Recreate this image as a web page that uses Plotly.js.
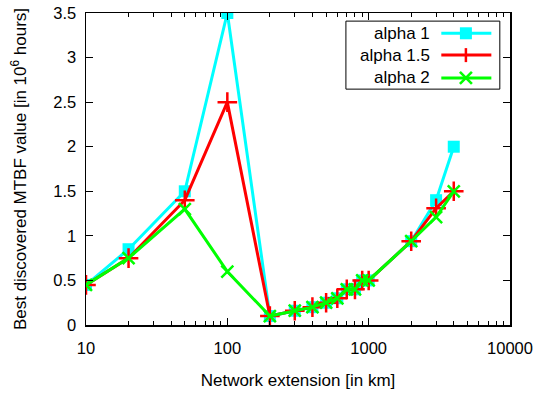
<!DOCTYPE html>
<html><head><meta charset="utf-8">
<script src="https://cdn.plot.ly/plotly-3.0.1.min.js"></script>
<style>html,body{margin:0;padding:0;background:#fff}#chart{width:537px;height:394px}</style>
</head><body><div id="chart"></div>
<script>
const extensionKm = [10, 20, 50, 100, 200, 300, 400, 500, 600, 700, 800, 900, 1000, 2000, 3000, 4000];
const alpha1   = [0.45, 0.85, 1.5, 3.5, 0.1, 0.16, 0.2, 0.25, 0.3, 0.4, 0.4, 0.5, 0.5, 0.94, 1.4, 2.0];
const alpha15  = [0.45, 0.75, 1.4, 2.5, 0.1, 0.16, 0.2, 0.25, 0.3, 0.4, 0.4, 0.5, 0.5, 0.94, 1.31, 1.5];
const alpha2   = [0.45, 0.75, 1.3, 0.6, 0.1, 0.16, 0.2, 0.25, 0.3, 0.4, 0.4, 0.5, 0.5, 0.94, 1.21, 1.5];
const seriesNames = ['alpha 1', 'alpha 1.5', 'alpha 2'];
const xTickVals = [10, 100, 1000, 10000];
const yTickVals = [0, 0.5, 1, 1.5, 2, 2.5, 3, 3.5];

const FONT = 'Liberation Sans, Arial, sans-serif';
const FT = 16.5, FL = 17;
const cyan = '#00ffff', red = '#ff0000', green = '#00ff00';

const traces = [
  {x: extensionKm, y: alpha1, name: seriesNames[0], mode: 'lines+markers',
   line: {color: cyan, width: 3}, marker: {symbol: 'square', size: 12, color: cyan}},
  {x: extensionKm, y: alpha15, name: seriesNames[1], mode: 'lines+markers',
   line: {color: red, width: 3}, marker: {symbol: 'cross-thin-open', size: 14, line: {color: red, width: 2.5}}},
  {x: extensionKm, y: alpha2, name: seriesNames[2], mode: 'lines+markers',
   line: {color: green, width: 3}, marker: {symbol: 'x-thin-open', size: 12, line: {color: green, width: 2.5}}}
];

// custom legend (text on left, sample on right), paper coordinates
const L = {x0: 0.613, x1: 0.976, y0: 0.756, y1: 0.974, textX: 0.815, s0: 0.838, s1: 0.956, mx: 0.896, rows: [0.935, 0.865, 0.792]};
const colors = [cyan, red, green];
const shapes = [{type: 'rect', xref: 'paper', yref: 'paper', x0: L.x0, x1: L.x1, y0: L.y0, y1: L.y1,
  line: {color: '#000', width: 1}, fillcolor: 'rgba(255,255,255,1)', layer: 'above'}];
const annotations = [];
const dx = 6/424, dy = 6/312;
seriesNames.forEach((n, i) => {
  const y = L.rows[i];
  annotations.push({xref: 'paper', yref: 'paper', x: L.textX, y: y, xanchor: 'right', yanchor: 'middle',
    text: n, showarrow: false, font: {family: FONT, size: FL, color: '#000'}});
  shapes.push({type: 'line', xref: 'paper', yref: 'paper', x0: L.s0, x1: L.s1, y0: y, y1: y,
    line: {color: colors[i], width: 3}, layer: 'above'});
  if (i === 0) {
    shapes.push({type: 'rect', xref: 'paper', yref: 'paper', x0: L.mx - dx, x1: L.mx + dx, y0: y - dy, y1: y + dy,
      line: {width: 0}, fillcolor: cyan, layer: 'above'});
  } else if (i === 1) {
    const ey = 7/312;
    shapes.push({type: 'line', xref: 'paper', yref: 'paper', x0: L.mx, x1: L.mx, y0: y - ey, y1: y + ey,
      line: {color: red, width: 2.5}, layer: 'above'});
  } else {
    const ex = 6/424, ey = 6/312;
    shapes.push({type: 'line', xref: 'paper', yref: 'paper', x0: L.mx - ex, x1: L.mx + ex, y0: y - ey, y1: y + ey,
      line: {color: green, width: 2.5}, layer: 'above'});
    shapes.push({type: 'line', xref: 'paper', yref: 'paper', x0: L.mx - ex, x1: L.mx + ex, y0: y + ey, y1: y - ey,
      line: {color: green, width: 2.5}, layer: 'above'});
  }
});

const layout = {
  width: 537, height: 394,
  margin: {l: 86, r: 27, t: 13, b: 69},
  paper_bgcolor: '#fff', plot_bgcolor: '#fff',
  showlegend: false,
  font: {family: FONT, size: FT, color: '#000'},
  xaxis: {
    type: 'log', range: [1, 4], tickvals: xTickVals, ticktext: xTickVals.map(String),
    ticks: 'inside', ticklen: 7, tickwidth: 1, tickcolor: '#000',
    minor: {ticks: 'inside', ticklen: 4, tickcolor: '#000', dtick: 'D1', showgrid: false},
    showline: true, linecolor: '#000', linewidth: 1.5, mirror: 'allticks',
    showgrid: false, zeroline: false, ticklabelstandoff: 8,
    tickfont: {family: FONT, size: FT, color: '#000'},
    title: {text: 'Network extension [in km]', font: {family: FONT, size: FL, color: '#000'}, standoff: 18}
  },
  yaxis: {
    range: [0, 3.5], tickvals: yTickVals, ticktext: yTickVals.map(String),
    ticks: 'inside', ticklen: 7, tickwidth: 1, tickcolor: '#000',
    showline: true, linecolor: '#000', linewidth: 1.5, mirror: 'allticks',
    showgrid: false, zeroline: false, ticklabelstandoff: 5,
    tickfont: {family: FONT, size: FT, color: '#000'},
    title: {text: 'Best discovered MTBF value [in 10<sup>6</sup> hours]', font: {family: FONT, size: FL, color: '#000'}, standoff: 22}
  },
  shapes: shapes, annotations: annotations
};
Plotly.newPlot('chart', traces, layout, {displayModeBar: false, staticPlot: true});
</script></body></html>
